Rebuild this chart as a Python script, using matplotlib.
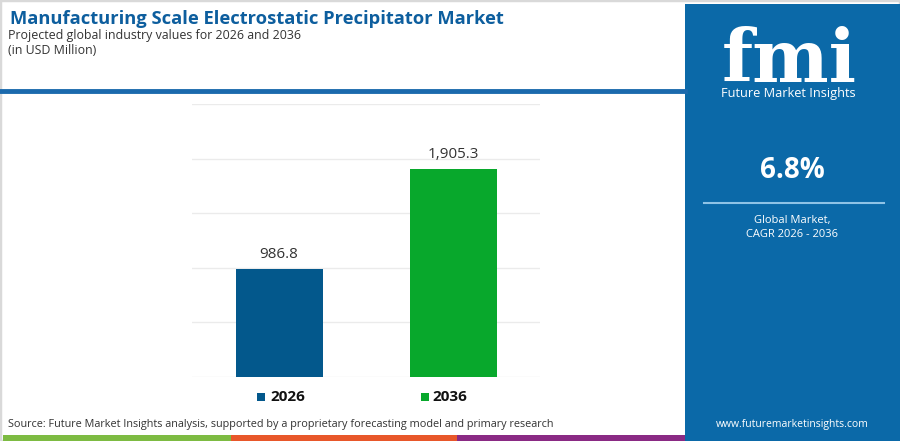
import matplotlib
matplotlib.use("Agg")
import matplotlib.pyplot as plt
from matplotlib.patches import Rectangle
from matplotlib.lines import Line2D

# ---- data ----
years = ["2026", "2036"]
values = [986.8, 1905.3]
value_labels = ["986.8", "1,905.3"]
bar_colors = ["#03588c", "#08a82c"]
yticks = [0, 500, 1000, 1500, 2000, 2500]

title = "Manufacturing Scale Electrostatic Precipitator Market"
subtitle = "Projected global industry values for 2026 and 2036"
unit = "(in USD Million)"
source = "Source: Future Market Insights analysis, supported by a proprietary forecasting model and primary research"
cagr = "6.8%"
cagr_label = ["Global Market,", "CAGR 2026 - 2036"]
website = "www.futuremarketinsights.com"
footer_colors = ["#7dbb42", "#e8572a", "#8a2a84"]

W, H = 900, 441
fig = plt.figure(figsize=(9, 4.41), dpi=100)
fig.patch.set_facecolor("white")

def fx(x): return x / W
def fy(y): return 1 - y / H

FONT = "Open Sans"

# border
fig.patches.append(Rectangle((0, 0), 1, 1, transform=fig.transFigure, fill=False,
                             edgecolor="#d9d9d9", linewidth=2.5, zorder=0))

# right blue panel
fig.patches.append(Rectangle((fx(685), 0), fx(900) - fx(685), fy(4), transform=fig.transFigure,
                             facecolor="#0b69a8", edgecolor="none", zorder=1))

# header divider line
fig.lines.append(Line2D([0, fx(685)], [fy(91), fy(91)], transform=fig.transFigure,
                        color="#1b6aad", linewidth=3.5, zorder=2))

# footer color strip
seg_edges = [3, 231, 457, 685]
for i, c in enumerate(footer_colors):
    fig.patches.append(Rectangle((fx(seg_edges[i]), 0), fx(seg_edges[i + 1]) - fx(seg_edges[i]),
                                 fy(435) - 0, transform=fig.transFigure,
                                 facecolor=c, edgecolor="none", zorder=2))

# titles
fig.text(fx(10), fy(19), title, fontsize=13.2, fontweight="bold", color="#0d5e9e",
         family=FONT, va="center", ha="left")
fig.text(fx(8), fy(35), subtitle, fontsize=8.9, color="#333333", family=FONT, va="center")
fig.text(fx(8), fy(51), unit, fontsize=8.9, color="#333333", family=FONT, va="center")

# source
fig.text(fx(8), fy(425), source, fontsize=7.8, color="#333333", family=FONT, va="center")

# chart axes
ax = fig.add_axes([fx(192), fy(377), fx(540) - fx(192), fy(104) - fy(377)])
x = list(range(len(years)))
ax.bar(x, values, width=0.5, color=bar_colors, zorder=3)
ax.set_xlim(-0.5, 1.5)
ax.set_ylim(0, 2500)
ax.set_yticks(yticks)
ax.grid(axis="y", color="#ebebeb", linewidth=1, zorder=0)
ax.tick_params(left=False, bottom=False, labelleft=False, labelbottom=False)
for s in ax.spines.values():
    s.set_visible(False)
for xi, v, lab in zip(x, values, value_labels):
    ax.annotate(lab, (xi, v), xytext=(0, 5), textcoords="offset points",
                ha="center", va="bottom", fontsize=11, color="#333333", family=FONT)

# legend
leg_items = [(257, 270), (421, 432)]
for (sx, tx), c, yr in zip(leg_items, bar_colors, years):
    fig.patches.append(Rectangle((fx(sx), fy(401)), fx(8), 8 / H, transform=fig.transFigure,
                                 facecolor=c, edgecolor="none"))
    fig.text(fx(tx), fy(397), yr, fontsize=11, fontweight="bold", color="#111111",
             family=FONT, va="center", ha="left")

# logo area
fig.text(fx(789), fy(82), "fmi", fontsize=52, fontweight="bold", color="white",
         family="DejaVu Serif", ha="center", va="baseline", zorder=5)
fig.text(fx(788), fy(93), "Future Market Insights", fontsize=9.2, color="white",
         family=FONT, ha="center", va="center", zorder=5)

# CAGR
fig.text(fx(792), fy(171), cagr, fontsize=20, fontweight="bold", color="white",
         family=FONT, ha="center", va="center", zorder=5)
fig.lines.append(Line2D([fx(704), fx(884)], [fy(203), fy(203)], transform=fig.transFigure,
                        color="#8fc3e6", linewidth=1.5, zorder=5))
fig.text(fx(792), fy(221), cagr_label[0], fontsize=8, color="white", family=FONT,
         ha="center", va="center", zorder=5)
fig.text(fx(792), fy(235), cagr_label[1], fontsize=8, color="white", family=FONT,
         ha="center", va="center", zorder=5)
fig.text(fx(792), fy(424), website, fontsize=7.5, color="white", family=FONT,
         ha="center", va="center", zorder=5)

fig.savefig("out.png", dpi=100, facecolor="white")
